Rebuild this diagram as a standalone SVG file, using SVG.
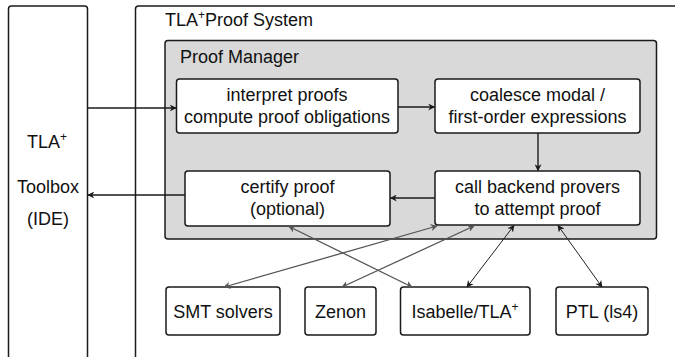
<svg xmlns="http://www.w3.org/2000/svg" width="675" height="357" viewBox="0 0 675 357">
<style>
  text{font-family:"Liberation Sans","DejaVu Sans",sans-serif;font-size:18px;fill:#111;text-anchor:middle}
  .title{text-anchor:start;font-size:18px}
  .box{fill:#fff;stroke:#1a1a1a;stroke-width:1.5}
  .pm{fill:#d9d9d9;stroke:#1a1a1a;stroke-width:1.5}
  .c{fill:none;stroke:#1a1a1a;stroke-width:1.4}
  .g{fill:none;stroke:#555;stroke-width:1.3}
  .d{fill:none;stroke:#222;stroke-width:1}
</style>
<defs>
  <marker id="ah" viewBox="0 0 10 10" refX="9" refY="5" markerWidth="7" markerHeight="7" markerUnits="userSpaceOnUse" orient="auto-start-reverse">
    <path d="M0,0 L10,5 L0,10 L3,5 z" fill="#1a1a1a"/>
  </marker>
  <marker id="ahg" viewBox="0 0 10 10" refX="9" refY="5" markerWidth="7" markerHeight="7" markerUnits="userSpaceOnUse" orient="auto-start-reverse">
    <path d="M0,0 L10,5 L0,10 L3,5 z" fill="#555"/>
  </marker>
</defs>

<g id="toolbox">
  <rect class="box" x="8.5" y="6" width="79" height="370" rx="3"/>
  <text x="47" y="148">TLA<tspan font-size="12" dy="-7">+</tspan></text>
  <text x="48" y="193">Toolbox</text>
  <text x="48" y="225">(IDE)</text>
</g>

<g id="proof-system">
  <rect class="box" x="135.5" y="6" width="560" height="370" rx="3"/>
  <text class="title" x="165" y="26">TLA<tspan font-size="12" dy="-7">+</tspan><tspan dy="7">Proof System</tspan></text>
</g>

<g id="proof-manager">
  <rect class="pm" x="165" y="40.5" width="491.5" height="198.5" rx="3"/>
  <text class="title" x="180" y="63">Proof Manager</text>
</g>

<g id="interpret">
  <rect class="box" x="176.5" y="79" width="221.5" height="54" rx="3"/>
  <text x="287" y="101">interpret proofs</text>
  <text x="287" y="123">compute proof obligations</text>
</g>

<g id="coalesce">
  <rect class="box" x="435" y="79" width="205" height="54" rx="3"/>
  <text x="537.5" y="101">coalesce modal /</text>
  <text x="537.5" y="123">first-order expressions</text>
</g>

<g id="certify">
  <rect class="box" x="185" y="171" width="205" height="55" rx="3"/>
  <text x="287.5" y="193">certify proof</text>
  <text x="287.5" y="215">(optional)</text>
</g>

<g id="backend">
  <rect class="box" x="435" y="171" width="205" height="54" rx="3"/>
  <text x="537.5" y="193">call backend provers</text>
  <text x="537.5" y="215">to attempt proof</text>
</g>

<g id="smt">
  <rect class="box" x="166" y="287" width="114" height="48" rx="3"/>
  <text x="223" y="318">SMT solvers</text>
</g>
<g id="zenon">
  <rect class="box" x="305" y="287" width="71" height="48" rx="3"/>
  <text x="340.5" y="318">Zenon</text>
</g>
<g id="isabelle">
  <rect class="box" x="400.5" y="287" width="129.5" height="48" rx="3"/>
  <text x="465" y="318">Isabelle/TLA<tspan font-size="12" dy="-7">+</tspan></text>
</g>
<g id="ptl">
  <rect class="box" x="556" y="287" width="92" height="48" rx="3"/>
  <text x="602" y="318">PTL (ls4)</text>
</g>

<g id="connectors">
  <line class="c" x1="87.5" y1="108" x2="176" y2="108" marker-end="url(#ah)"/>
  <line class="c" x1="398" y1="107" x2="434.5" y2="107" marker-end="url(#ah)"/>
  <line class="c" x1="538" y1="133" x2="538" y2="170.5" marker-end="url(#ah)"/>
  <line class="c" x1="435" y1="198" x2="390.5" y2="198" marker-end="url(#ah)"/>
  <line class="c" x1="185" y1="195" x2="88" y2="195" marker-end="url(#ah)"/>
  <line class="g" x1="224" y1="287" x2="437" y2="226" marker-start="url(#ahg)" marker-end="url(#ahg)"/>
  <line class="g" x1="342" y1="287" x2="474" y2="226" marker-start="url(#ahg)" marker-end="url(#ahg)"/>
  <line class="g" x1="289" y1="226.5" x2="412" y2="287" marker-start="url(#ahg)" marker-end="url(#ahg)"/>
  <line class="d" x1="467" y1="287" x2="514" y2="225.5" marker-start="url(#ah)" marker-end="url(#ah)"/>
  <line class="d" x1="602" y1="287" x2="558" y2="225.5" marker-start="url(#ah)" marker-end="url(#ah)"/>
</g>
</svg>
